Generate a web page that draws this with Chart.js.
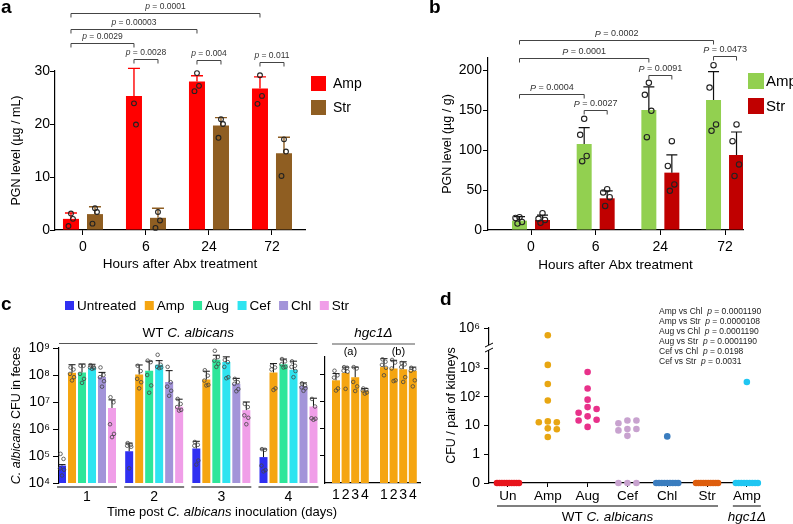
<!DOCTYPE html>
<html>
<head>
<meta charset="utf-8">
<title>PGN levels and C. albicans colonisation</title>
<script src="https://cdn.jsdelivr.net/npm/chart.js@4.4.1/dist/chart.umd.min.js"></script>
<style>
  html, body { margin: 0; padding: 0; background: #fff; }
  #fig { position: relative; width: 793px; height: 524px; overflow: hidden; background: #fff; }
  #fig canvas { position: absolute; }
</style>
</head>
<body>
<div id="fig">
  <canvas id="panelA" width="400" height="280" style="left:0;top:0"></canvas>
  <canvas id="panelB" width="393" height="280" style="left:400px;top:0"></canvas>
  <canvas id="panelC" width="430" height="244" style="left:0;top:280px"></canvas>
  <canvas id="panelC2" width="113" height="244" style="left:317px;top:280px"></canvas>
  <canvas id="panelD" width="393" height="244" style="left:400px;top:280px"></canvas>
</div>
<script>
// ---- panel a: PGN (ug/mL) ----
const hours = ['0', '6', '24', '72'];
const pgnMlAmp = [2.1, 25.3, 28.0, 26.7];
const pgnMlAmpSd = [1.1, 5.2, 1.1, 2.2];
const pgnMlAmpPts = [[3.1, 2.1, 0.75], [23.9, 19.9], [29.6, 27.2, 26.2], [29.2, 25.3, 23.8]];
const pgnMlStr = [3.0, 2.3, 19.7, 14.5];
const pgnMlStrSd = [1.4, 1.8, 1.5, 3.0];
const pgnMlStrPts = [[4.1, 3.4, 1.2], [3.4, 1.8, 0.4], [20.9, 20.0, 17.4], [17.1, 14.8, 10.2]];

// ---- panel b: PGN (ug/g) ----
const pgnGAmp = [11.7, 107.5, 150, 162.5];
const pgnGAmpSd = [5, 20.5, 29, 35.5];
const pgnGAmpPts = [[16, 15, 10, 8], [139, 119, 92.5, 86], [184, 169, 149, 116], [206, 178, 132, 124]];
const pgnGStr = [12.5, 39.6, 71.7, 93.8];
const pgnGStrSd = [6.2, 9.4, 22.3, 28.7];
const pgnGStrPts = [[21, 14, 12.5, 9], [51, 47, 41, 30], [111, 80, 57, 49], [132, 111, 82, 67.5]];

// ---- panel c: fecal CFU, WT C. albicans ----
const days = ['1', '2', '3', '4'];
const fecesDecades = [1e4, 1e5, 1e6, 1e7, 1e8, 1e9];
const untreatedMean = [4.4e4, 1.5e5, 1.9e5, 9.1e4];
const untreatedSd = [0.4e4, 1.5e5, 1.6e5, 0.9e5];
const untreatedPts = [[1.2e5, 7.8e4, 3.5e4, 3.1e4, 1.9e4], [3.0e5, 2.6e5, 2.4e5, 2.2e5, 3.5e4], [3.3e5, 2.6e5, 2.4e5, 6.8e4, 4.8e4], [1.8e5, 1.7e5, 4.4e4, 3.0e4, 2.7e4]];
const ampMean = [1.2e8, 1.05e8, 6.8e7, 1.25e8];
const ampSd = [1.2e8, 1.3e8, 7e7, 1.4e8];
const ampPts = [[1.9e8, 1.6e8, 1.1e8, 8.3e7, 6.3e7], [2.2e8, 1.4e8, 7.2e7, 5.4e7, 3.2e7], [1.5e8, 9.5e7, 6.2e7, 4.3e7, 4.1e7], [2.2e8, 1.9e8, 1.6e8, 3.2e7, 2.8e7]];
const augMean = [1.25e8, 1.45e8, 3.7e8, 2.5e8];
const augSd = [1.3e8, 1.8e8, 1.7e8, 1.4e8];
const augPts = [[2.2e8, 2.2e8, 1.1e8, 7.2e7, 5.1e7], [3.4e8, 3.0e8, 1.0e8, 4.1e7, 2.2e7], [7.9e8, 4.6e8, 3.4e8, 2.6e8, 2.0e8], [3.9e8, 3.2e8, 2.5e8, 2.0e8, 1.9e8]];
const cefMean = [1.85e8, 2.4e8, 3.0e8, 1.55e8];
const cefSd = [0.65e8, 1.0e8, 1.7e8, 1.7e8];
const cefPts = [[2.3e8, 2.0e8, 1.9e8, 1.8e8, 1.7e8], [5.6e8, 2.4e8, 2.0e8, 1.9e8, 1.8e8], [3.6e8, 3.0e8, 2.0e8, 8.3e7, 7.6e7], [3.2e8, 2.2e8, 2.0e8, 1.4e8, 8.3e7]];
const chlMean = [8.5e7, 5.5e7, 4.7e7, 3.9e7];
const chlSd = [4e7, 9e7, 2.8e7, 1.2e7];
const chlPts = [[1.9e8, 1.0e8, 8.3e7, 5.9e7, 3.7e7], [2.0e8, 5.4e7, 3.7e7, 2.6e7, 1.7e7], [7.2e7, 5.4e7, 4.7e7, 3.0e7, 2.5e7], [4.9e7, 4.1e7, 3.5e7, 3.2e7, 2.6e7]];
const strMean = [6.0e6, 6.7e6, 5.0e6, 6.8e6];
const strSd = [6e6, 6e6, 5e6, 7e6];
const strPts = [[1.5e7, 9.8e6, 1.5e6, 6.6e5, 5.0e5], [1.3e7, 8.5e6, 6.5e6, 5.1e6, 4.8e6], [8.5e6, 6.5e6, 3.2e6, 2.6e6, 1.5e6], [1.3e7, 6.8e6, 2.5e6, 2.4e6, 2.2e6]];

// ---- panel c: hgc1 mutant, two experiments (a) and (b) ----
const hgcGroups = ['(a)', '(b)'];
const hgcDecades = [1e5, 1e6, 1e7, 1e8];
const hgcMeanA = [6.2e7, 1.15e8, 8.1e7, 2.6e7];
const hgcSdA = [4.8e7, 7.5e7, 1.09e8, 0.5e7];
const hgcPtsA = [[1.4e8, 9.5e7, 7.8e7, 3.1e7, 2.6e7], [1.9e8, 1.8e8, 1.4e8, 1.3e8, 3.0e7], [1.9e8, 1.7e8, 5.4e7, 3.7e7, 2.5e7], [3.1e7, 2.8e7, 2.6e7, 2.2e7, 2.0e7]];
const hgcMeanB = [1.9e8, 1.7e8, 1.6e8, 1.4e8];
const hgcSdB = [2.0e8, 1.7e8, 1.4e8, 0.5e8];
const hgcPtsB = [[3.7e8, 3.0e8, 2.3e8, 1.8e8, 9.5e7], [3.5e8, 2.8e8, 1.7e8, 6.2e7, 5.8e7], [2.7e8, 2.4e8, 1.9e8, 8.1e7, 5.4e7], [1.8e8, 1.6e8, 1.4e8, 6.2e7, 3.7e7]];

// ---- panel d: kidney CFU ----
const kidneyGroups = ['Un', 'Amp', 'Aug', 'Cef', 'Chl', 'Str', 'Amp'];
const kidneyUn = [0, 0, 0, 0, 0, 0, 0, 0, 0, 0];
const kidneyAmp = [3.8e5, 1300, 280, 75, 14, 13, 13, 8, 7.5, 4];
const kidneyAug = [740, 195, 80, 44, 38, 28, 21, 16, 15, 9];
const kidneyCef = [15, 15, 12, 7.6, 7.6, 6.8, 4.4, 0, 0, 0];
const kidneyChl = [4.2, 0, 0, 0, 0, 0, 0, 0, 0, 0];
const kidneyStr = [0, 0, 0, 0, 0, 0, 0, 0, 0, 0];
const kidneyHgc = [330, 0, 0, 0, 0, 0, 0, 0, 0, 0];
const kidneyTicks = [0, 1, 10, 100, 1000, 1e6];
const kidneyTickLabels = ['0', '1', '10', '10²', '10³', '10⁶'];
const statPairs = ['Amp vs Chl', 'Amp vs Str', 'Aug vs Chl', 'Aug vs Str', 'Cef vs Chl', 'Cef vs Str'];
const statP = ['0.0001190', '0.0000108', '0.0001190', '0.0001190', '0.0198', '0.0031'];

// significance brackets: bar [dataset, index] to bar, level in y units
const sigA = [
  { from: [0, 0], to: [0, 3], p: '0.0001', level: 40.9 },
  { from: [0, 0], to: [0, 2], p: '0.00003', level: 37.9 },
  { from: [0, 0], to: [0, 1], p: '0.0029', level: 35.2 },
  { from: [0, 1], to: [1, 1], p: '0.0028', level: 32.2 },
  { from: [0, 2], to: [1, 2], p: '0.004', level: 32.1 },
  { from: [0, 3], to: [1, 3], p: '0.011', level: 31.7 }
];
const sigB = [
  { from: [0, 0], to: [0, 3], p: '0.0002', level: 237.5 },
  { from: [0, 0], to: [0, 2], p: '0.0001', level: 214.6 },
  { from: [0, 0], to: [0, 1], p: '0.0004', level: 169.6 },
  { from: [0, 1], to: [1, 1], p: '0.0027', level: 150 },
  { from: [0, 2], to: [1, 2], p: '0.0091', level: 193.8 },
  { from: [0, 3], to: [1, 3], p: '0.0473', level: 217.5 }
];

const colorsA = ['#ff0000', '#8f5e22'];
const colorsB = ['#92d050', '#c00000'];
const fecesColors = ['#3030f2', '#f5a511', '#2ee69a', '#2ee4f0', '#a394d9', '#f09ee8'];
const kidneyColors = ['#e8141c', '#e8a612', '#e8318a', '#c8a2cf', '#3a7dbf', '#de5e0e', '#1fc6f2'];

const FONT = "'Liberation Sans', Arial, sans-serif";
Chart.defaults.font.family = FONT;
Chart.defaults.font.size = 14;
Chart.defaults.color = '#000';
Chart.defaults.animation = false;
Chart.defaults.events = [];
Chart.defaults.plugins.legend.display = false;
Chart.defaults.plugins.tooltip.enabled = false;

const SUP = '⁰¹²³⁴⁵⁶⁷⁸⁹';
const f = (size, style) => `${style || ''} ${size}px ${FONT}`;

function drawParts(ctx, parts, x, y, align) {
  let w = 0;
  parts.forEach(p => { ctx.font = p[1]; w += ctx.measureText(p[0]).width; });
  let cx = align === 'center' ? x - w / 2 : align === 'right' ? x - w : x;
  ctx.textAlign = 'left';
  ctx.textBaseline = 'middle';
  parts.forEach(p => {
    ctx.font = p[1];
    ctx.fillText(p[0], cx, y);
    cx += ctx.measureText(p[0]).width;
  });
}

function panelLetter(ctx, letter, x, y) {
  ctx.font = f(19, 'bold');
  ctx.fillStyle = '#000';
  ctx.textAlign = 'left';
  ctx.textBaseline = 'middle';
  ctx.fillText(letter, x, y);
}

function drawLegend(ctx, labels, colors, x, y, bw, bh, step, gap, size) {
  ctx.font = f(size);
  ctx.textAlign = 'left';
  ctx.textBaseline = 'middle';
  labels.forEach((l, i) => {
    ctx.fillStyle = colors[i];
    ctx.fillRect(x, y + i * step, bw, bh);
    ctx.fillStyle = '#000';
    ctx.fillText(l, x + bw + gap, y + i * step + bh / 2 + 0.5);
  });
}

// error bars (upper half only) plus the individual animals as open circles
function errDots(series, o) {
  return {
    id: 'errDots',
    afterDatasetsDraw(chart) {
      const ctx = chart.ctx, ys = chart.scales.y;
      ctx.save();
      series.forEach((s, d) => {
        chart.getDatasetMeta(d).data.forEach((bar, i) => {
          const y0 = ys.getPixelForValue(s.mean[i]);
          const top = ys.getPixelForValue(s.mean[i] + s.sd[i]);
          ctx.strokeStyle = o.errColor || s.color;
          ctx.lineWidth = o.errWidth;
          ctx.beginPath();
          ctx.moveTo(bar.x, y0);
          ctx.lineTo(bar.x, top);
          ctx.moveTo(bar.x - o.cap, top);
          ctx.lineTo(bar.x + o.cap, top);
          ctx.stroke();
          ctx.strokeStyle = o.dotColor;
          ctx.lineWidth = o.dotWidth;
          s.pts[i].forEach((v, k) => {
            ctx.beginPath();
            ctx.arc(bar.x + o.jitter[k % o.jitter.length], ys.getPixelForValue(v), o.r, 0, Math.PI * 2);
            ctx.stroke();
          });
        });
      });
      ctx.restore();
    }
  };
}

function bracketPlugin(list, letter, size) {
  return {
    id: 'brackets',
    afterDraw(chart) {
      const ctx = chart.ctx, ys = chart.scales.y;
      ctx.save();
      list.forEach(b => {
        const x1 = chart.getDatasetMeta(b.from[0]).data[b.from[1]].x;
        const x2 = chart.getDatasetMeta(b.to[0]).data[b.to[1]].x;
        const y = Math.round(ys.getPixelForValue(b.level)) + 0.5;
        ctx.strokeStyle = '#444';
        ctx.lineWidth = 1;
        ctx.beginPath();
        ctx.moveTo(x1, y + 4);
        ctx.lineTo(x1, y);
        ctx.lineTo(x2, y);
        ctx.lineTo(x2, y + 4);
        ctx.stroke();
        ctx.fillStyle = '#333';
        drawParts(ctx, [[letter, f(size, 'italic')], [' = ' + b.p, f(size)]], (x1 + x2) / 2, y - 6.5, 'center');
      });
      ctx.restore();
    }
  };
}

function barSet(label, vals, xs, color, cat, bar) {
  return {
    label,
    data: vals.map((v, i) => ({ x: xs[i], y: v })),
    backgroundColor: color,
    borderWidth: 0,
    categoryPercentage: cat,
    barPercentage: bar
  };
}

const blackGrid = { drawOnChartArea: false, color: '#000', tickLength: 5, offset: false };
const blackBorder = { color: '#000', width: 1.2 };
const noGrid = { display: false, drawTicks: false };
const hourIdx = hours.map((h, i) => i);

// ================= panel a =================
new Chart(document.getElementById('panelA'), {
  type: 'bar',
  data: {
    datasets: [
      barSet('Amp', pgnMlAmp, hourIdx, colorsA[0], 0.762, 0.667),
      barSet('Str', pgnMlStr, hourIdx, colorsA[1], 0.762, 0.667)
    ]
  },
  options: {
    responsive: false,
    layout: { padding: { left: 0, top: 71, right: 95, bottom: 0 } },
    scales: {
      x: {
        type: 'linear', min: -0.444, max: 3.524, offset: false,
        afterBuildTicks: s => { s.ticks = hourIdx.map(v => ({ value: v })); },
        afterFit: s => { s.height = 50; },
        ticks: { callback: v => hours[v], padding: 3.6, autoSkip: false, maxRotation: 0 },
        grid: blackGrid, border: blackBorder,
        title: { display: true, text: 'Hours after Abx treatment', font: { size: 13.5 }, padding: { top: 0, bottom: 7.6 } }
      },
      y: {
        min: 0, max: 30,
        afterFit: s => { s.width = 55; },
        ticks: { stepSize: 10, padding: 0 },
        grid: blackGrid, border: blackBorder,
        title: { display: true, text: 'PGN level (µg / mL)', font: { size: 12.5 }, padding: { top: 9.5, bottom: 0 } }
      }
    }
  },
  plugins: [
    errDots([
      { mean: pgnMlAmp, sd: pgnMlAmpSd, pts: pgnMlAmpPts, color: colorsA[0] },
      { mean: pgnMlStr, sd: pgnMlStrSd, pts: pgnMlStrPts, color: colorsA[1] }
    ], { errWidth: 1.4, cap: 6, dotColor: '#222', dotWidth: 1.1, r: 2.4, jitter: [0, 2, -2.5] }),
    bracketPlugin(sigA, 'p', 8.5),
    {
      id: 'decorA',
      afterDraw(chart) {
        const ctx = chart.ctx, ca = chart.chartArea;
        ctx.save();
        panelLetter(ctx, 'a', 1, 8);
        drawLegend(ctx, ['Amp', 'Str'], colorsA, ca.right + 6, ca.top + 5, 15, 15, 24, 7, 14);
        ctx.restore();
      }
    }
  ]
});

// ================= panel b =================
new Chart(document.getElementById('panelB'), {
  type: 'bar',
  data: {
    datasets: [
      barSet('Amp', pgnGAmp, hourIdx, colorsB[0], 0.711, 0.652),
      barSet('Str', pgnGStr, hourIdx, colorsB[1], 0.711, 0.652)
    ]
  },
  options: {
    responsive: false,
    layout: { padding: { left: 0, top: 58, right: 50, bottom: 0 } },
    scales: {
      x: {
        type: 'linear', min: -0.665, max: 3.278, offset: false,
        afterBuildTicks: s => { s.ticks = hourIdx.map(v => ({ value: v })); },
        afterFit: s => { s.height = 50; },
        ticks: { callback: v => hours[v], padding: 3.6, autoSkip: false, maxRotation: 0 },
        grid: blackGrid, border: blackBorder,
        title: { display: true, text: 'Hours after Abx treatment', font: { size: 13.5 }, padding: { top: 0, bottom: 6.6 } }
      },
      y: {
        min: 0, max: 215,
        afterFit: s => { s.width = 88; },
        ticks: { stepSize: 50, padding: 1, includeBounds: false },
        grid: blackGrid, border: blackBorder,
        title: { display: true, text: 'PGN level (µg / g)', font: { size: 12.5 }, padding: { top: 40.5, bottom: 0 } }
      }
    }
  },
  plugins: [
    errDots([
      { mean: pgnGAmp, sd: pgnGAmpSd, pts: pgnGAmpPts },
      { mean: pgnGStr, sd: pgnGStrSd, pts: pgnGStrPts }
    ], { errColor: '#111', errWidth: 1.2, cap: 5.5, dotColor: '#222', dotWidth: 1.1, r: 2.7, jitter: [0, -4, 2.5, -2] }),
    bracketPlugin(sigB, 'P', 9),
    {
      id: 'decorB',
      afterDraw(chart) {
        const ctx = chart.ctx, ca = chart.chartArea;
        ctx.save();
        panelLetter(ctx, 'b', 29, 8);
        drawLegend(ctx, ['Amp', 'Str'], colorsB, ca.right + 5, ca.top + 15, 16, 16, 25, 2, 15);
        ctx.restore();
      }
    }
  ]
});

// ================= panel c, WT =================
const fecesSeries = [
  { label: 'Untreated', mean: untreatedMean, sd: untreatedSd, pts: untreatedPts },
  { label: 'Amp', mean: ampMean, sd: ampSd, pts: ampPts },
  { label: 'Aug', mean: augMean, sd: augSd, pts: augPts },
  { label: 'Cef', mean: cefMean, sd: cefSd, pts: cefPts },
  { label: 'Chl', mean: chlMean, sd: chlSd, pts: chlPts },
  { label: 'Str', mean: strMean, sd: strSd, pts: strPts }
];
const dayIdx = days.map((d, i) => i + 1);
const cDotOpts = { errColor: '#111', errWidth: 1, cap: 3.5, dotColor: '#444', dotWidth: 0.8, r: 1.8, jitter: [-1.5, 1.5, -2, 2, 0] };

new Chart(document.getElementById('panelC'), {
  type: 'bar',
  data: { datasets: fecesSeries.map((s, k) => barSet(s.label, s.mean, dayIdx, fecesColors[k], 0.893, 0.8)) },
  options: {
    responsive: false,
    layout: { padding: { left: 0, top: 68, right: 108, bottom: 0 } },
    scales: {
      x: {
        type: 'linear', min: 0.583, max: 4.499, offset: false,
        afterBuildTicks: s => { s.ticks = dayIdx.map(v => ({ value: v })); },
        afterFit: s => { s.height = 41; },
        ticks: { callback: v => days[v - 1], padding: 5.6, autoSkip: false, maxRotation: 0 },
        grid: noGrid, border: { display: false }
      },
      y: {
        type: 'logarithmic', min: 1e4, max: 1e9,
        afterBuildTicks: s => { s.ticks = fecesDecades.map(v => ({ value: v })); },
        afterFit: s => { s.width = 59; },
        ticks: { callback: v => '10' + SUP[Math.round(Math.log10(v))], padding: 3, autoSkip: false },
        grid: { drawOnChartArea: false, color: '#000', tickLength: 6 }, border: blackBorder
      }
    }
  },
  plugins: [
    errDots(fecesSeries, cDotOpts),
    {
      id: 'decorC',
      afterDraw(chart) {
        const ctx = chart.ctx, ca = chart.chartArea;
        const metas = fecesSeries.map((s, k) => chart.getDatasetMeta(k).data);
        ctx.save();
        panelLetter(ctx, 'c', 1, 25);
        // horizontal legend
        ctx.font = f(13.5);
        let lx = 65;
        fecesSeries.forEach((s, k) => {
          ctx.fillStyle = fecesColors[k];
          ctx.fillRect(lx, 21, 9, 9);
          ctx.fillStyle = '#000';
          ctx.textAlign = 'left';
          ctx.textBaseline = 'middle';
          ctx.fillText(s.label, lx + 12, 26);
          lx += 12 + ctx.measureText(s.label).width + 8.5;
        });
        // WT header
        const last = metas[metas.length - 1];
        const hx2 = last[last.length - 1].x + last[last.length - 1].width / 2;
        ctx.strokeStyle = '#555';
        ctx.lineWidth = 1.2;
        ctx.beginPath();
        ctx.moveTo(ca.left, ca.top - 4.5);
        ctx.lineTo(hx2, ca.top - 4.5);
        ctx.stroke();
        ctx.fillStyle = '#000';
        drawParts(ctx, [['WT ', f(13.5)], ['C. albicans', f(13.5, 'italic')]], (ca.left + hx2) / 2, ca.top - 15, 'center');
        // day underlines
        ctx.strokeStyle = '#000';
        ctx.lineWidth = 1.2;
        dayIdx.forEach((d, i) => {
          const b1 = metas[0][i], b2 = last[i];
          ctx.beginPath();
          ctx.moveTo(b1.x - b1.width / 2 - 1, ca.bottom + 4);
          ctx.lineTo(b2.x + b2.width / 2 + 1, ca.bottom + 4);
          ctx.stroke();
        });
        // axis titles
        drawParts(ctx, [['Time post ', f(13)], ['C. albicans', f(13, 'italic')], [' inoculation (days)', f(13)]], ca.left + 163, 232, 'center');
        ctx.translate(17, (ca.top + ca.bottom) / 2);
        ctx.rotate(-Math.PI / 2);
        drawParts(ctx, [['C. albicans', f(12.5, 'italic')], [' CFU in feces', f(12.5)]], 0, 0, 'center');
        ctx.restore();
      }
    }
  ]
});

// ================= panel c, hgc1 mutant =================
const hgcX = hgcGroups.flatMap((g, gi) => days.map((d, di) => gi * (days.length + 1) + di));
const hgcLabels = hgcGroups.flatMap(() => days);
const hgcSeries = [{ mean: hgcMeanA.concat(hgcMeanB), sd: hgcSdA.concat(hgcSdB), pts: hgcPtsA.concat(hgcPtsB) }];

new Chart(document.getElementById('panelC2'), {
  type: 'bar',
  data: { datasets: [barSet('hgc1', hgcSeries[0].mean, hgcX, fecesColors[1], 1, 0.833)] },
  options: {
    responsive: false,
    layout: { padding: { left: 0, top: 77, right: 10, bottom: 0 } },
    scales: {
      x: {
        type: 'linear', min: -1.146, max: 8.75, offset: false,
        afterBuildTicks: s => { s.ticks = hgcX.map(v => ({ value: v })); },
        afterFit: s => { s.height = 41; },
        ticks: { callback: (v, i) => hgcLabels[i], padding: 4, autoSkip: false, maxRotation: 0 },
        grid: noGrid, border: blackBorder
      },
      y: {
        type: 'logarithmic', min: 1e4, max: 4.5e8,
        afterBuildTicks: s => { s.ticks = hgcDecades.map(v => ({ value: v })); },
        afterFit: s => { s.width = 8; },
        ticks: { display: false },
        grid: { drawOnChartArea: false, color: '#000', tickLength: 5 }, border: blackBorder
      }
    }
  },
  plugins: [
    errDots(hgcSeries, cDotOpts),
    {
      id: 'decorC2',
      afterDraw(chart) {
        const ctx = chart.ctx, ca = chart.chartArea;
        const bars = chart.getDatasetMeta(0).data;
        ctx.save();
        ctx.strokeStyle = '#555';
        ctx.lineWidth = 1.2;
        ctx.beginPath();
        ctx.moveTo(ca.left + 7, 64);
        ctx.lineTo(ca.right - 5, 64);
        ctx.stroke();
        ctx.fillStyle = '#000';
        drawParts(ctx, [['hgc1Δ', f(13.5, 'italic')]], (ca.left + 7 + ca.right - 5) / 2, 53, 'center');
        hgcGroups.forEach((g, gi) => {
          const a = bars[gi * days.length], b = bars[gi * days.length + days.length - 1];
          drawParts(ctx, [[g, f(11)]], (a.x + b.x) / 2, 72, 'center');
        });
        ctx.restore();
      }
    }
  ]
});

// ================= panel d =================
// broken log axis: 0 at bottom, 1..10^3 in decades, break, then 10^5..10^6 compressed
const brokenLog = v => (v <= 0 ? 0 : v < 1e4 ? 1 + Math.log10(v) : 4.8 + (Math.log10(v) - 5) * 0.6);
const kidneySeries = [kidneyUn, kidneyAmp, kidneyAug, kidneyCef, kidneyChl, kidneyStr, kidneyHgc];
const groupIdx = kidneyGroups.map((g, i) => i);

new Chart(document.getElementById('panelD'), {
  type: 'scatter',
  data: {
    datasets: kidneySeries.map((vals, gi) => ({
      label: kidneyGroups[gi],
      data: vals.map(v => ({ x: gi, y: brokenLog(v) })),
      pointRadius: 3.3,
      pointBorderWidth: 0,
      pointBackgroundColor: kidneyColors[gi],
      clip: false
    }))
  },
  options: {
    responsive: false,
    layout: { padding: { left: 0, top: 48, right: 35, bottom: 0 } },
    scales: {
      x: {
        type: 'linear', min: -0.477, max: 6.28,
        afterBuildTicks: s => { s.ticks = groupIdx.map(v => ({ value: v })); },
        afterFit: s => { s.height = 41; },
        ticks: { callback: v => kidneyGroups[v], padding: 1, autoSkip: false, maxRotation: 0, font: { size: 13.5 } },
        grid: { drawOnChartArea: false, color: '#000', tickLength: 4 }, border: blackBorder
      },
      y: {
        min: 0, max: 5.4,
        afterBuildTicks: s => { s.ticks = kidneyTicks.map(v => ({ value: brokenLog(v) })); },
        afterFit: s => { s.width = 89; },
        ticks: { callback: (v, i) => kidneyTickLabels[i], padding: 4, autoSkip: false },
        grid: { drawOnChartArea: false, color: '#000', tickLength: 5 }, border: blackBorder,
        title: { display: true, text: 'CFU / pair of kidneys', font: { size: 12.5 }, padding: { top: 44.5, bottom: 0 } }
      }
    }
  },
  plugins: [
    {
      // spread the animals of each group sideways (beeswarm), zeros as a tight band
      id: 'swarm',
      beforeDatasetsDraw(chart) {
        const xs = chart.scales.x;
        chart.data.datasets.forEach((ds, d) => {
          const els = chart.getDatasetMeta(d).data;
          const cx = xs.getPixelForValue(d);
          const zeros = [], placed = [];
          const order = els.map((e, i) => i).sort((a, b) => ds.data[b].y - ds.data[a].y);
          order.forEach(i => {
            const e = els[i];
            if (ds.data[i].y === 0) { zeros.push(e); return; }
            for (const s of [0, 9, -9, 18, -18, 27, -27]) {
              if (placed.every(p => p.s !== s || Math.abs(p.y - e.y) >= 6.5)) {
                e.x = cx + s;
                placed.push({ s, y: e.y });
                break;
              }
            }
          });
          const gap = zeros.length > 1 ? Math.min(9, 22 / (zeros.length - 1)) : 0;
          zeros.forEach((e, k) => { e.x = cx + (k - (zeros.length - 1) / 2) * gap; });
        });
      }
    },
    {
      id: 'decorD',
      afterDraw(chart) {
        const ctx = chart.ctx, ca = chart.chartArea, xs = chart.scales.x, ys = chart.scales.y;
        ctx.save();
        panelLetter(ctx, 'd', 40, 20);
        // axis break
        const yb = ys.getPixelForValue(4.72);
        ctx.fillStyle = '#fff';
        ctx.fillRect(ca.left - 2, yb - 2.5, 4, 5);
        ctx.strokeStyle = '#000';
        ctx.lineWidth = 1;
        [-2.5, 2.5].forEach(o => {
          ctx.beginPath();
          ctx.moveTo(ca.left - 4, yb + o + 2);
          ctx.lineTo(ca.left + 4, yb + o - 2);
          ctx.stroke();
        });
        // stats block
        ctx.fillStyle = '#222';
        statPairs.forEach((s, i) => {
          drawParts(ctx, [[s + '  ', f(8.5)], ['p', f(8.5, 'italic')], [' = ' + statP[i], f(8.5)]], ca.left + 170, ca.top - 16 + i * 10, 'left');
        });
        // group underlines
        const wt1 = xs.getPixelForValue(0) - 11, wt2 = xs.getPixelForValue(5) + 11;
        const h1 = xs.getPixelForValue(6) - 14, h2 = xs.getPixelForValue(6) + 14;
        ctx.strokeStyle = '#000';
        ctx.lineWidth = 1.2;
        ctx.beginPath();
        ctx.moveTo(wt1, ca.bottom + 23);
        ctx.lineTo(wt2, ca.bottom + 23);
        ctx.moveTo(h1, ca.bottom + 23);
        ctx.lineTo(h2, ca.bottom + 23);
        ctx.stroke();
        ctx.fillStyle = '#000';
        drawParts(ctx, [['WT ', f(13.5)], ['C. albicans', f(13.5, 'italic')]], (wt1 + wt2) / 2, ca.bottom + 34, 'center');
        drawParts(ctx, [['hgc1Δ', f(13.5, 'italic')]], (h1 + h2) / 2, ca.bottom + 34, 'center');
        ctx.restore();
      }
    }
  ]
});
</script>
</body>
</html>
